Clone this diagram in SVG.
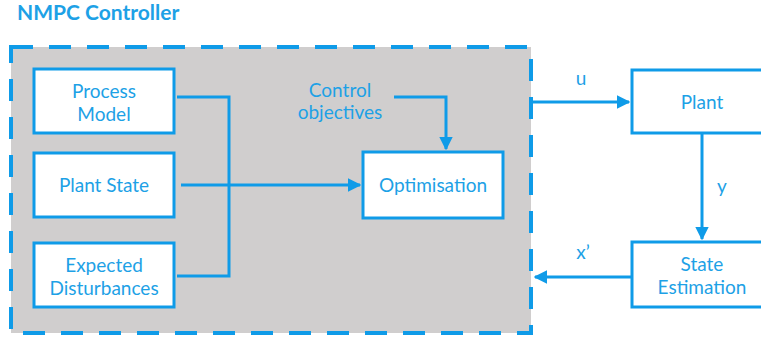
<svg xmlns="http://www.w3.org/2000/svg" width="761" height="341" viewBox="0 0 761 341">
  <style>
    .box { fill: #ffffff; stroke: #0f9be8; stroke-width: 3; }
    .lbl { font-family: Lato, "Open Sans", sans-serif; font-size: 19px; fill: #1da1e6; text-anchor: middle; }
    .wire { fill: none; stroke: #0f9be8; stroke-width: 3; }
  </style>
  <defs>
    <marker id="arrow" viewBox="0 0 10 10" refX="9" refY="5" markerWidth="4.5" markerHeight="4.5" orient="auto" markerUnits="strokeWidth">
      <path d="M0,0 L10,5 L0,10 z" fill="#0f9be8"/>
    </marker>
  </defs>

  <rect width="761" height="341" fill="#ffffff"/>

  <!-- controller boundary -->
  <g id="controller">
    <rect x="11" y="47" width="520" height="286" fill="#d0cece" stroke="#0f9be8" stroke-width="4" stroke-dasharray="22 16"/>
    <text x="17" y="20" font-family="Lato, 'Open Sans', sans-serif" font-size="21" font-weight="bold" fill="#1da1e6">NMPC Controller</text>
  </g>

  <g id="process-model">
    <rect class="box" x="34" y="69" width="140" height="64"/>
    <text class="lbl" x="104" y="98">Process</text>
    <text class="lbl" x="104" y="121">Model</text>
  </g>

  <g id="plant-state">
    <rect class="box" x="34" y="153" width="140" height="64"/>
    <text class="lbl" x="104" y="192">Plant State</text>
  </g>

  <g id="expected-disturbances">
    <rect class="box" x="34" y="243" width="140" height="64"/>
    <text class="lbl" x="104" y="272">Expected</text>
    <text class="lbl" x="104" y="295">Disturbances</text>
  </g>

  <g id="control-objectives">
    <text class="lbl" x="340" y="97">Control</text>
    <text class="lbl" x="340" y="119">objectives</text>
  </g>

  <g id="optimisation">
    <rect class="box" x="363" y="152" width="140" height="66"/>
    <text class="lbl" x="433" y="192">Optimisation</text>
  </g>

  <g id="plant">
    <rect class="box" x="632" y="70" width="140" height="63"/>
    <text class="lbl" x="702" y="109">Plant</text>
  </g>

  <g id="state-estimation">
    <rect class="box" x="632" y="242" width="140" height="65"/>
    <text class="lbl" x="702" y="271">State</text>
    <text class="lbl" x="702" y="294">Estimation</text>
  </g>

  <g id="connectors">
    <polyline class="wire" points="177,97 229,97 229,276 177,276"/>
    <line class="wire" x1="181" y1="185" x2="360" y2="185" marker-end="url(#arrow)"/>
    <polyline class="wire" points="394,97 446,97 446,149" marker-end="url(#arrow)"/>
    <line class="wire" x1="533" y1="102" x2="629" y2="102" marker-end="url(#arrow)"/>
    <line class="wire" x1="702" y1="133" x2="702" y2="239" marker-end="url(#arrow)"/>
    <line class="wire" x1="631" y1="277" x2="535" y2="277" marker-end="url(#arrow)"/>
    <text class="lbl" x="581" y="85">u</text>
    <text class="lbl" x="722" y="193">y</text>
    <text class="lbl" x="583" y="259">x’</text>
  </g>
</svg>
